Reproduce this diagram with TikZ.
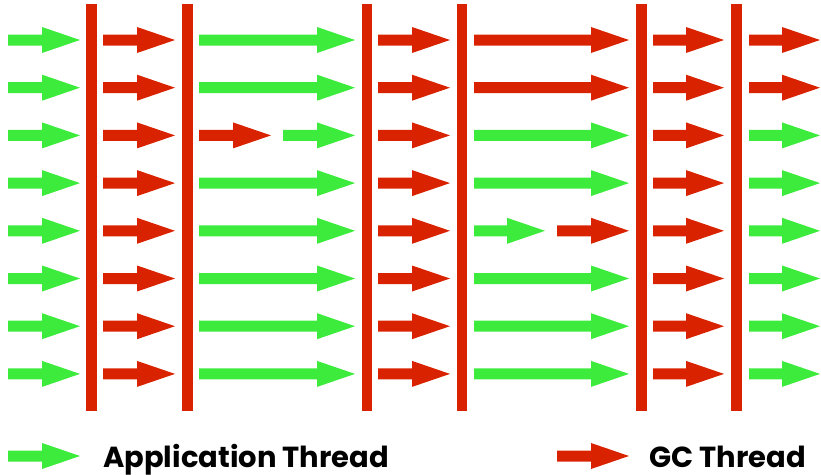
\documentclass[tikz,border=0pt]{standalone}
\usepackage{fontspec}
\setmainfont{Poppins}
\definecolor{appgreen}{RGB}{61,235,61}
\definecolor{gcred}{RGB}{217,35,0}
\newcommand{\thrarrow}[4]{%
  \fill[#1] (#2,#4-5.5) -- (#3-38,#4-5.5) -- (#3-38,#4-13) -- (#3,#4)
    -- (#3-38,#4+13) -- (#3-38,#4+5.5) -- (#2,#4+5.5) -- cycle;}
\tikzset{
  safebar/.style={fill=gcred},
  legendtext/.style={anchor=base west, inner sep=0pt, font=\bfseries\fontsize{29}{33}\selectfont, text=black}
}
\begin{document}
\begin{tikzpicture}[x=1pt,y=-1pt]
\useasboundingbox (0,0) rectangle (821,474);
% safepoint bars
\foreach \bx in {91.5,187.5,367,462,641.5,736.7}{
  \fill[safebar] (\bx-5.25,4) rectangle (\bx+5.25,411);
}
% rows
\foreach \i in {0,...,7}{
  \pgfmathsetmacro{\ry}{40+47.7*\i}
  % column 1: application
  \thrarrow{appgreen}{8}{80}{\ry}
  % column 2: GC
  \thrarrow{gcred}{103}{175}{\ry}
  % column 3
  \ifnum\i=2
    \thrarrow{gcred}{199}{271}{\ry}
    \thrarrow{appgreen}{283}{355}{\ry}
  \else
    \thrarrow{appgreen}{199}{355}{\ry}
  \fi
  % column 4: GC
  \thrarrow{gcred}{378}{450}{\ry}
  % column 5
  \ifnum\i<2
    \thrarrow{gcred}{474}{629}{\ry}
  \else\ifnum\i=4
    \thrarrow{appgreen}{474}{545}{\ry}
    \thrarrow{gcred}{557}{629}{\ry}
  \else
    \thrarrow{appgreen}{474}{629}{\ry}
  \fi\fi
  % column 6: GC
  \thrarrow{gcred}{653}{724}{\ry}
  % column 7
  \ifnum\i<2
    \thrarrow{gcred}{749}{820}{\ry}
  \else
    \thrarrow{appgreen}{749}{820}{\ry}
  \fi
}
% legend
\thrarrow{appgreen}{8}{80}{456}
\node[legendtext] (applbl) at (103,467) {Application Thread};
\thrarrow{gcred}{557}{629}{456}
\node[legendtext] (gclbl) at (649,467) {GC Thread};
\end{tikzpicture}
\end{document}
